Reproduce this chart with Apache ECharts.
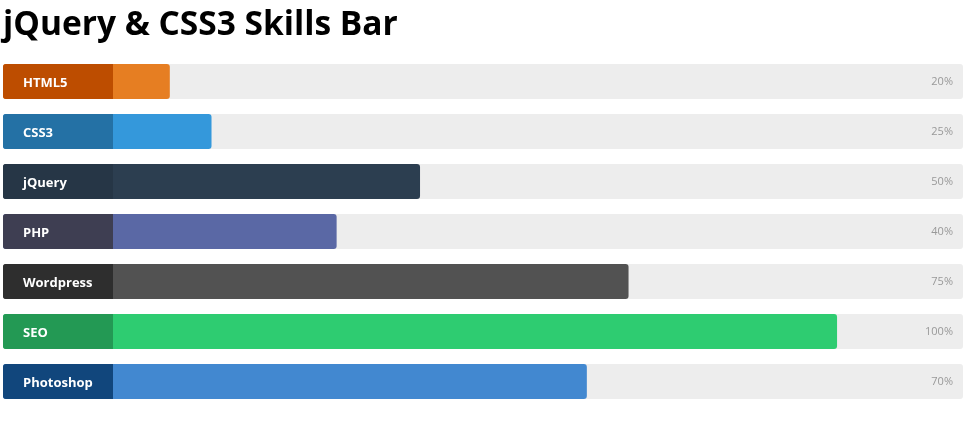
<!DOCTYPE html>
<html>
<head>
<meta charset="utf-8">
<script src="https://cdn.jsdelivr.net/npm/echarts@6/dist/echarts.min.js"></script>
<style>
html,body{margin:0;padding:0;background:#fff;}
#chart{width:978px;height:423px;}
</style>
</head>
<body>
<div id="chart"></div>
<script>
var categories = ['HTML5', 'CSS3', 'jQuery', 'PHP', 'Wordpress', 'SEO', 'Photoshop'];
var percents = [20, 25, 50, 40, 75, 100, 70];
var percentLabels = ['20%', '25%', '50%', '40%', '75%', '100%', '70%'];
var barColors = ['#e67e22', '#3498db', '#2c3e50', '#5a68a5', '#525252', '#2ecc71', '#4288d0'];
var titleColors = ['#bd4d00', '#2471a5', '#263646', '#3e3e52', '#2e2e2e', '#239954', '#11467c'];

var chart = echarts.init(document.getElementById('chart'));
var fontFam = '"Open Sans", "Noto Sans", sans-serif';

var data = percents.map(function (v, i) {
  return {
    value: v,
    itemStyle: { color: barColors[i], borderRadius: 3 },
    label: {
      show: true,
      position: 'insideLeft',
      distance: 0,
      formatter: '{t|' + categories[i] + '}',
      rich: {
        t: {
          color: '#fff',
          fontWeight: 'bold',
          fontSize: 13,
          fontFamily: fontFam,
          backgroundColor: titleColors[i],
          width: 90,
          height: 32,
          lineHeight: 32,
          padding: [3, 0, 0, 20],
          borderRadius: [3, 0, 0, 3]
        }
      }
    }
  };
});

chart.setOption({
  animation: false,
  title: {
    text: 'jQuery & CSS3 Skills Bar',
    left: -2,
    top: 3,
    textStyle: { fontSize: 33.5, fontWeight: 'bold', color: '#000', fontFamily: fontFam }
  },
  grid: { left: 3, right: 15, top: 56.5, height: 350, containLabel: false },
  xAxis: { type: 'value', min: 0, max: 115.1, show: false },
  yAxis: [
    { type: 'category', inverse: true, data: categories, show: false },
    {
      type: 'category', inverse: true, data: percentLabels, position: 'right', z: 10,
      axisLine: { show: false }, axisTick: { show: false },
      axisLabel: { inside: true, margin: 10, color: '#999', fontSize: 11, fontFamily: fontFam, padding: [2, 0, 0, 0] }
    }
  ],
  series: [{
    type: 'bar',
    yAxisIndex: 0,
    barWidth: 35,
    showBackground: true,
    backgroundStyle: { color: '#ededed', borderRadius: 3 },
    data: data
  }]
});
</script>
</body>
</html>
